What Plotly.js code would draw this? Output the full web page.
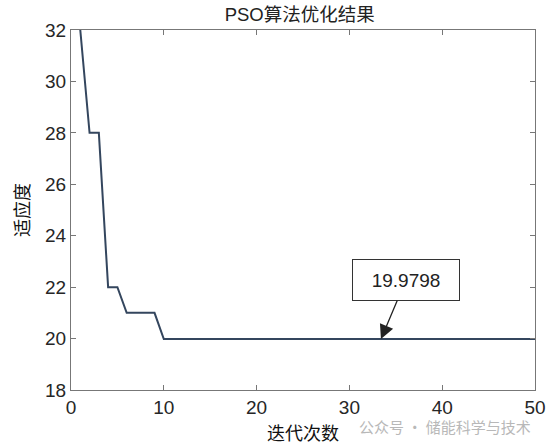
<!DOCTYPE html>
<html>
<head>
<meta charset="utf-8">
<script src="https://cdn.plot.ly/plotly-3.0.1.min.js"></script>
<style>html,body{margin:0;padding:0;background:#fff;}#chart{width:552px;height:448px;}</style>
</head>
<body>
<div id="chart"></div>
<script>
// Data
const iterations = [1,2,3,4,5,6,7,8,9,10,11,12,13,14,15,16,17,18,19,20,21,22,23,24,25,26,27,28,29,30,31,32,33,34,35,36,37,38,39,40,41,42,43,44,45,46,47,48,49,50];
const fitness = [32,28,28,22,22,21,21,21,21,19.9798,19.9798,19.9798,19.9798,19.9798,19.9798,19.9798,19.9798,19.9798,19.9798,19.9798,19.9798,19.9798,19.9798,19.9798,19.9798,19.9798,19.9798,19.9798,19.9798,19.9798,19.9798,19.9798,19.9798,19.9798,19.9798,19.9798,19.9798,19.9798,19.9798,19.9798,19.9798,19.9798,19.9798,19.9798,19.9798,19.9798,19.9798,19.9798,19.9798,19.9798];
const xTicks = [0,10,20,30,40,50];
const yTicks = [18,20,22,24,26,28,30,32];
const bestLabel = "19.9798";
const bestAt = 33.4;
const bestValue = 19.9798;

const tickFont = {family: "Liberation Sans, Arial, sans-serif", size: 19, color: "#262626"};
const cjkFont = {family: "Noto Sans CJK SC, sans-serif", size: 18, color: "#111"};

const trace = {
  x: iterations, y: fitness, type: "scatter", mode: "lines",
  line: {color: "#34465e", width: 2}, hoverinfo: "skip"
};

const layout = {
  width: 552, height: 448,
  margin: {l: 71, r: 17, t: 30, b: 58},
  paper_bgcolor: "#fff", plot_bgcolor: "#fff",
  showlegend: false,
  title: {text: "PSO算法优化结果", font: {family: "Liberation Sans, Noto Sans CJK SC, sans-serif", size: 18.5, color: "#222"}, x: 0.543, xanchor: "center", y: 0.968, yanchor: "middle"},
  xaxis: {
    range: [0, 50], tickvals: xTicks, ticks: "inside", ticklen: 5, tickcolor: "#777",
    showline: true, linecolor: "#777", linewidth: 1, mirror: "ticks", showgrid: false, zeroline: false,
    tickfont: tickFont, title: {text: "迭代次数", font: cjkFont, standoff: 10}
  },
  yaxis: {
    range: [18, 32], tickvals: yTicks, ticks: "inside", ticklen: 5, tickcolor: "#777",
    showline: true, linecolor: "#777", linewidth: 1, mirror: "ticks", showgrid: false, zeroline: false,
    tickfont: tickFont, title: {text: "适应度", font: cjkFont, standoff: 10}
  },
  annotations: [
    {
      x: bestAt, y: bestValue, xref: "x", yref: "y", text: bestLabel,
      showarrow: true, arrowhead: 2, arrowsize: 2.2, arrowwidth: 1.3, arrowcolor: "#222",
      ax: 25, ay: -59, bordercolor: "#333", borderwidth: 1, bgcolor: "#fff",
      width: 104, height: 38, font: {family: "Liberation Sans, Arial, sans-serif", size: 19, color: "#222"}
    },
    {
      xref: "paper", yref: "paper", x: 0.995, y: -0.1, xanchor: "right", yanchor: "middle",
      text: "公众号 · 储能科学与技术", showarrow: false,
      font: {family: "Noto Sans CJK SC, sans-serif", size: 15, color: "#b8b8b8"}
    }
  ]
};

Plotly.newPlot("chart", [trace], layout, {staticPlot: true, displayModeBar: false});
</script>
</body>
</html>
